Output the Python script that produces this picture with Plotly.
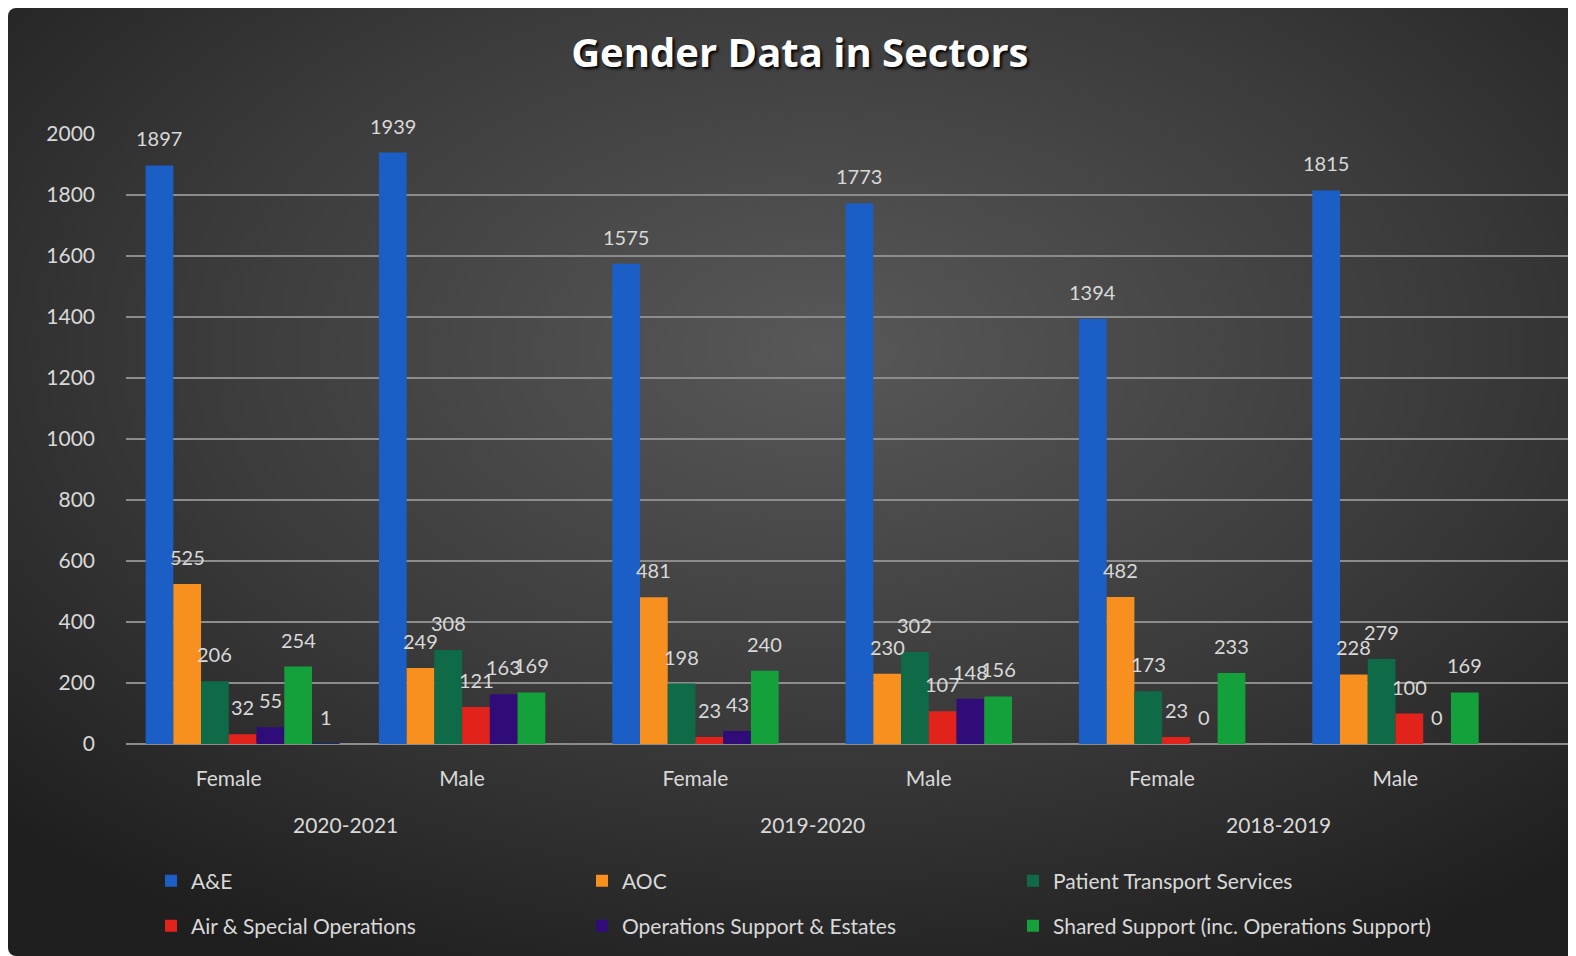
import base64
import plotly.graph_objects as go

# categories
genders = ["Female", "Male", "Female", "Male", "Female", "Male"]
years = ["2020-2021", "2019-2020", "2018-2019"]

# series values (one value per gender/year column)
ae = [1897, 1939, 1575, 1773, 1394, 1815]
aoc = [525, 249, 481, 230, 482, 228]
pts = [206, 308, 198, 302, 173, 279]
air = [32, 121, 23, 107, 23, 100]
ose = [55, 163, 43, 148, 0, 0]
shared = [254, 169, 240, 156, 233, 169]
other = [1, None, None, None, None, None]  # unnamed 7th series, not in legend

y_ticks = [0, 200, 400, 600, 800, 1000, 1200, 1400, 1600, 1800, 2000]

series = [
    ("A&E", ae, "#1b5fc6", "legend"),
    ("AOC", aoc, "#f7901f", "legend"),
    ("Patient Transport Services", pts, "#0f6a48", "legend"),
    ("Air & Special Operations", air, "#e2231b", "legend2"),
    ("Operations Support & Estates", ose, "#300c78", "legend2"),
    ("Shared Support (inc. Operations Support)", shared, "#14a03b", "legend2"),
    ("", other, "#0d2d6b", None),
]

FONT = "Lato, 'Open Sans', sans-serif"
LABEL = "#d9d9d9"
# the page body adds an 8px margin, so the figure is 8px smaller than the window
W, H = 1568, 948
L, R, T, B = 118, 8, 126, 212
pw, ph = W - L - R, H - T - B
BARGAP = 0.168

x = list(range(len(genders)))
n = len(series)
slot = (1 - BARGAP) / n

fig = go.Figure()
for j, (name, vals, color, lg) in enumerate(series):
    fig.add_trace(go.Bar(
        name=name, x=x, y=vals, marker_color=color, marker_line_width=0,
        legend=lg or "legend", showlegend=lg is not None,
    ))
    # value labels sit a little above each bar (as in the 3-D original)
    for i, v in zip(x, vals):
        if v is None:
            continue
        fig.add_annotation(
            x=i - (1 - BARGAP) / 2 + slot * (j + 0.5), y=v, xref="x", yref="y",
            text=str(v), showarrow=False, yanchor="middle", yshift=27,
            font=dict(size=20, color=LABEL, family=FONT),
        )

# background panel with soft radial gradient
svg = (
    f'<svg xmlns="http://www.w3.org/2000/svg" width="{W}" height="{H}">'
    '<defs><radialGradient id="g" cx="52%" cy="36%" r="72%">'
    '<stop offset="0" stop-color="#585858"/><stop offset="0.55" stop-color="#3b3b3b"/>'
    '<stop offset="1" stop-color="#1f1f1f"/></radialGradient></defs>'
    f'<rect width="{W}" height="{H}" rx="8" fill="url(#g)"/></svg>'
)
src = "data:image/svg+xml;base64," + base64.b64encode(svg.encode()).decode()
fig.add_layout_image(
    source=src, xref="paper", yref="paper",
    x=-L / pw, y=(H - B) / ph, sizex=W / pw, sizey=H / ph,
    xanchor="left", yanchor="top", sizing="stretch", layer="below",
)

# year labels under each pair of columns
for i, yr in enumerate(years):
    fig.add_annotation(
        x=2 * i + 0.5 - 0.06, xref="x", y=-80 / ph, yref="paper",
        text=yr, showarrow=False, yanchor="middle",
        font=dict(size=21, color=LABEL, family=FONT),
    )

legend_common = dict(
    orientation="h", xref="container", yref="container", x=143 / W,
    xanchor="left", yanchor="middle", entrywidth=386, entrywidthmode="pixels",
    font=dict(size=21, color=LABEL, family=FONT), bgcolor="rgba(0,0,0,0)",
)

fig.update_layout(
    width=W, height=H,
    margin=dict(l=L, r=R, t=T, b=B, autoexpand=False),
    paper_bgcolor="white", plot_bgcolor="rgba(0,0,0,0)",
    barmode="group", bargap=BARGAP, bargroupgap=0,
    title=dict(
        text="<b>Gender Data in Sectors</b>", x=0.505, xanchor="center",
        y=1 - 45 / H, yanchor="middle", yref="container",
        font=dict(size=40, color="white", family="'Open Sans', sans-serif",
                  shadow="2px 2px 3px #000"),
    ),
    legend=dict(y=1 - 873 / H, **legend_common),
    legend2=dict(y=1 - 918 / H, **legend_common),
    xaxis=dict(
        tickvals=[i - 0.06 for i in x], ticktext=genders, range=[-0.5, 5.68],
        showgrid=False, zeroline=False, showline=False, ticks="",
        ticklabelstandoff=20, tickfont=dict(size=21, color=LABEL, family=FONT),
    ),
    yaxis=dict(
        range=[0, 2000], tickvals=y_ticks, showgrid=True, gridcolor="#8c8c8c",
        gridwidth=2, zeroline=True, zerolinecolor="#8c8c8c", zerolinewidth=2,
        showline=False, ticks="", ticklabelstandoff=30,
        tickfont=dict(size=21, color=LABEL, family=FONT),
    ),
    showlegend=True,
)

fig.write_html("out.html")
